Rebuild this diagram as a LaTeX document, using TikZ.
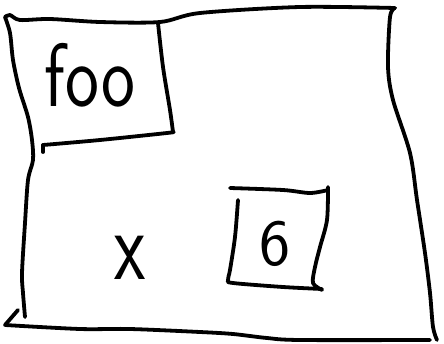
\documentclass[tikz,border=0pt]{standalone}
\tikzset{
  pen/.style={line width=3.8pt, line cap=round, line join=round, black},
  hand/.style={font=\sffamily, inner sep=0pt, text=black}
}
\begin{document}
\begin{tikzpicture}[x=1pt,y=-1pt]
\useasboundingbox (0,0) rectangle (444,343);
% outer frame: top + right
\draw[pen] plot[smooth, tension=0.5] coordinates {(5,17) (10,15) (20,20) (50,19) (100,22) (160,22) (200,13) (300,7) (395,8)};
\draw[pen] plot[smooth, tension=0.5] coordinates {(395,8) (390,17) (388,67) (393,100) (410,153) (417,200) (425,253) (430,293) (433,327) (437,340)};
% outer frame: left
\draw[pen] plot[smooth, tension=0.5] coordinates {(5,17) (10,33) (13,60) (19,88) (28,117) (32,140) (33,160) (28,180) (25,223) (22,273) (23,293) (25,317)};
% outer frame: bottom
\draw[pen] (18,310) -- (5,325);
\draw[pen] plot[smooth, tension=0.5] coordinates {(5,325) (80,329) (130,329) (200,332) (233,334) (267,338) (300,340) (430,340)};
% foo box
\draw[pen] plot[smooth, tension=0.5] coordinates {(158,23) (163,67) (170,110) (173,132)};
\draw[pen] plot[smooth, tension=0.5] coordinates {(173,132) (167,133) (100,140) (43,145)};
\draw[pen] (43,145) -- (43,152);
% 6 box
\draw[pen] plot[smooth, tension=0.5] coordinates {(230,188) (283,190) (310,193) (328,190)};
\draw[pen] plot[smooth, tension=0.5] coordinates {(328,187) (327,220) (320,247) (315,267) (313,283) (322,290)};
\draw[pen] plot[smooth, tension=0.5] coordinates {(238,200) (235,237) (230,270) (228,280) (233,283) (283,287) (322,289)};
% texts
\node[hand, font=\sffamily\fontsize{72}{72}\selectfont, anchor=base, yscale=1.25] (foo) at (90,106) {foo};
\node[hand, font=\sffamily\fontsize{72}{72}\selectfont, anchor=base, yscale=1.4] (x) at (130,279) {x};
\node[hand, font=\sffamily\fontsize{66}{66}\selectfont, anchor=base] (six) at (275,265) {6};
\end{tikzpicture}
\end{document}
